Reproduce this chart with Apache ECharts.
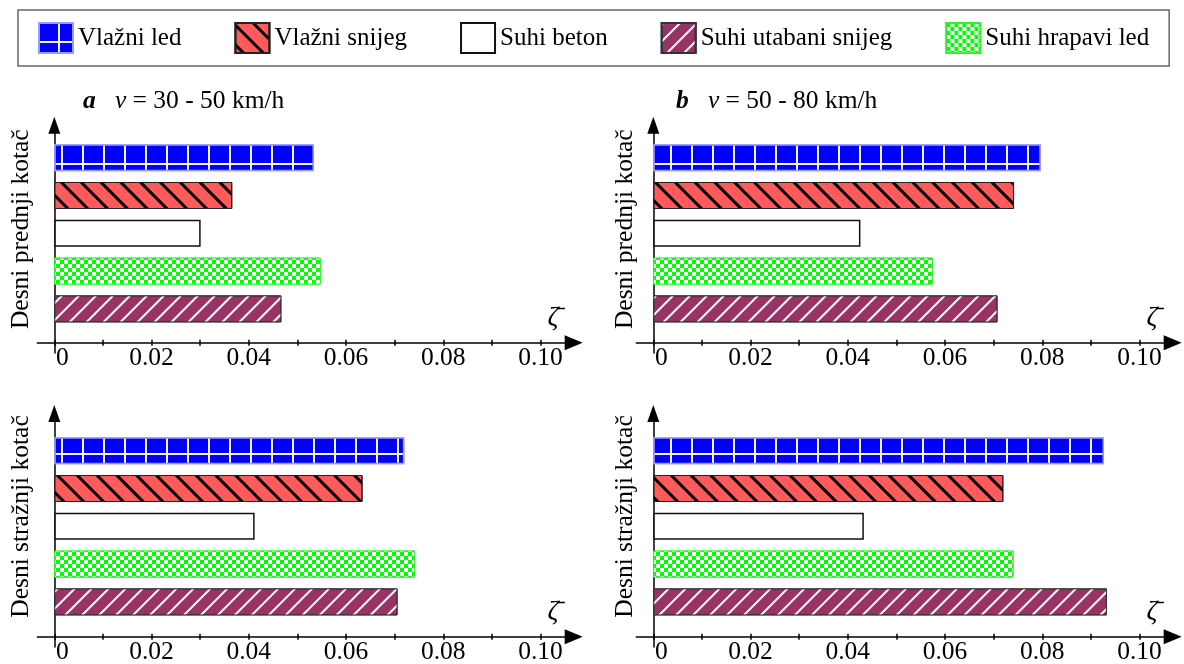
<!DOCTYPE html>
<html><head><meta charset="utf-8">
<script src="https://cdn.jsdelivr.net/npm/echarts@6/dist/echarts.min.js"></script>
<style>html,body{margin:0;padding:0;background:#fff}#c{width:1184px;height:664px}</style>
</head><body><div id="c"></div>
<script>
// ---- data ----
const surfaces = ['Vlažni led', 'Vlažni snijeg', 'Suhi beton', 'Suhi hrapavi led', 'Suhi utabani snijeg'];
const legendOrder = ['Vlažni led', 'Vlažni snijeg', 'Suhi beton', 'Suhi utabani snijeg', 'Suhi hrapavi led'];
const frontLow  = [0.0534, 0.0366, 0.0301, 0.0548, 0.0467];
const rearLow   = [0.0720, 0.0634, 0.0412, 0.0742, 0.0706];
const frontHigh = [0.0797, 0.0742, 0.0426, 0.0575, 0.0708];
const rearHigh  = [0.0927, 0.0720, 0.0433, 0.0741, 0.0933];
const tickValues = [0, 0.01, 0.02, 0.03, 0.04, 0.05, 0.06, 0.07, 0.08, 0.09, 0.10];
const labelValues = [0, 0.02, 0.04, 0.06, 0.08, 0.10];
const tickLabels = ['0', '0.02', '0.04', '0.06', '0.08', '0.10'];
const panelLetters = ['a', 'b'];
const speedRanges = ['30 - 50 km/h', '50 - 80 km/h'];
const wheelNames = ['Desni prednji kotač', 'Desni stražnji kotač'];
const axisName = 'ζ̄';

// ---- styles / layout ----
const FONT = 'Liberation Serif';
const surfaceStyles = {
  'Vlažni led': {color: '#f4f4ff', borderColor: '#9a9aff', borderWidth: 1.5,
    decal: {symbol: 'rect', symbolSize: 1, symbolKeepAspect: false, color: '#0000ff', dashArrayX: [19, 2], dashArrayY: [18, 2, 9, 0]}},
  'Vlažni snijeg': {color: '#ff5b5b', borderColor: '#222', borderWidth: 1,
    decal: {symbol: 'rect', symbolSize: 1, symbolKeepAspect: false, color: '#000', dashArrayX: [1, 0], dashArrayY: [3, 11], rotation: Math.PI / 4}},
  'Suhi beton': {color: '#ffffff', borderColor: '#111', borderWidth: 1.5},
  'Suhi hrapavi led': {color: '#00ff00', borderColor: '#33ee33', borderWidth: 1,
    decal: {symbol: 'rect', symbolSize: 1, symbolKeepAspect: false, color: '#ffffff', dashArrayX: [[4, 4], [0, 4, 4, 0]], dashArrayY: [4, 0]}},
  'Suhi utabani snijeg': {color: '#993366', borderColor: '#333', borderWidth: 1,
    decal: {symbol: 'rect', symbolSize: 1, symbolKeepAspect: false, color: '#ffffff', dashArrayX: [1, 0], dashArrayY: [2, 10], rotation: -Math.PI / 4}}
};
const xMin = -0.0035, xMax = 0.10683;
const colLeft = [37.3, 636.3];
const plotWidth = 536.4;
const rows = [
  {axisTop: 125.2, axisH: 227.8, yMin: -0.0474, barTop: 138.8, nameShift: 19.8},
  {axisTop: 413.5, axisH: 233.5, yMin: -0.0461, barTop: 431.8, nameShift: 27.5}
];
const yNameGap = [3.1, -2.4];
const titleLeft = [83, 676];
const panels = [
  {vals: frontLow, col: 0, row: 0},
  {vals: frontHigh, col: 1, row: 0},
  {vals: rearLow, col: 0, row: 1},
  {vals: rearHigh, col: 1, row: 1}
];
const black = {color: '#000', width: 1.5};

const grid = [], xAxis = [], yAxis = [], series = [];
panels.forEach((p, k) => {
  const r = rows[p.row], left = colLeft[p.col];
  const gA = grid.length;
  grid.push({left: left, top: r.barTop, width: plotWidth, height: 189, outerBoundsMode: 'none'});
  const gB = grid.length;
  grid.push({left: left, top: r.axisTop, width: plotWidth, height: r.axisH, outerBoundsMode: 'none'});
  const xA = xAxis.length;
  const yA = yAxis.length;
  const yB = yA + 1;
  xAxis.push({type: 'value', gridIndex: gA, min: xMin, max: xMax, show: false});
  xAxis.push({
    type: 'value', gridIndex: gB, min: xMin, max: xMax, position: 'bottom',
    axisLine: {show: true, onZero: true, symbol: ['none', 'triangle'], symbolSize: [15, 18], lineStyle: black},
    axisTick: {show: true, customValues: tickValues, length: 3, lineStyle: black},
    axisLabel: {
      show: true, customValues: labelValues, margin: -8,
      fontFamily: FONT, fontSize: 25.5, color: '#000',
      formatter: function (v) {
        const i = labelValues.findIndex(t => Math.abs(t - v) < 1e-9);
        const s = i >= 0 ? tickLabels[i] : '';
        return v === 0 ? '{z|' + s + '}' : s;
      },
      rich: {z: {fontFamily: FONT, fontSize: 25.5, color: '#000', padding: [0, 0, 0, 16]}}
    },
    splitLine: {show: false},
    name: axisName, nameLocation: 'end', nameGap: -20.7, nameMoveOverlap: false,
    nameTextStyle: {fontFamily: FONT, fontStyle: 'italic', fontSize: 27, color: '#000', align: 'center', verticalAlign: 'bottom', padding: [0, 0, 11, 0]}
  });
  xAxis.push({
    type: 'value', gridIndex: gB, min: xMin, max: xMax, position: 'top',
    axisLine: {show: false, onZero: true, onZeroAxisIndex: yB},
    axisTick: {show: true, customValues: tickValues, length: 3, lineStyle: black},
    axisLabel: {show: false}, splitLine: {show: false}
  });
  yAxis.push({type: 'category', gridIndex: gA, data: surfaces, inverse: true, show: false});
  yAxis.push({
    type: 'value', gridIndex: gB, min: r.yMin, max: 1,
    axisLine: {show: true, onZero: true, symbol: ['none', 'triangle'], symbolSize: [12, 17], lineStyle: black},
    axisTick: {show: false}, axisLabel: {show: false}, splitLine: {show: false},
    name: wheelNames[p.row], nameLocation: 'middle', nameGap: yNameGap[p.col], nameMoveOverlap: false,
    nameTextStyle: {fontFamily: FONT, fontSize: 25.5, color: '#000', padding: [0, 0, 0, r.nameShift]}
  });
  surfaces.forEach((s, i) => {
    series.push({
      type: 'bar', name: s, xAxisIndex: xA, yAxisIndex: yA, stack: 'p' + k, barWidth: 27,
      data: surfaces.map((_, j) => (j === i ? p.vals[j] : '-')),
      itemStyle: surfaceStyles[s], silent: true, emphasis: {disabled: true}
    });
  });
});

const titleRich = {
  b: {fontFamily: FONT, fontSize: 25.5, fontWeight: 'bold', fontStyle: 'italic', color: '#000'},
  i: {fontFamily: FONT, fontSize: 25.5, fontWeight: 'normal', fontStyle: 'italic', color: '#000'},
  n: {fontFamily: FONT, fontSize: 25.5, fontWeight: 'normal', color: '#000'}
};
const title = panelLetters.map((L, c) => ({
  left: titleLeft[c], top: 88.5, padding: 0,
  text: '{b|' + L + '}{n|   }{i|v}{n| = ' + speedRanges[c] + '}',
  textStyle: {fontFamily: FONT, fontSize: 25.5, fontWeight: 'normal', color: '#000', rich: titleRich}
}));

const chart = echarts.init(document.getElementById('c'), null, {renderer: 'canvas'});
chart.setOption({
  animation: false,
  backgroundColor: '#fff',
  title: title,
  legend: {
    data: legendOrder, left: 18, top: 10, padding: [12, 20, 12, 20], itemGap: 53,
    itemWidth: 34, itemHeight: 30, icon: 'rect', borderColor: '#666', borderWidth: 1.5,
    selectedMode: false, textStyle: {fontFamily: FONT, fontSize: 25, color: '#000'}
  },
  grid: grid, xAxis: xAxis, yAxis: yAxis, series: series
});
</script>
</body></html>
